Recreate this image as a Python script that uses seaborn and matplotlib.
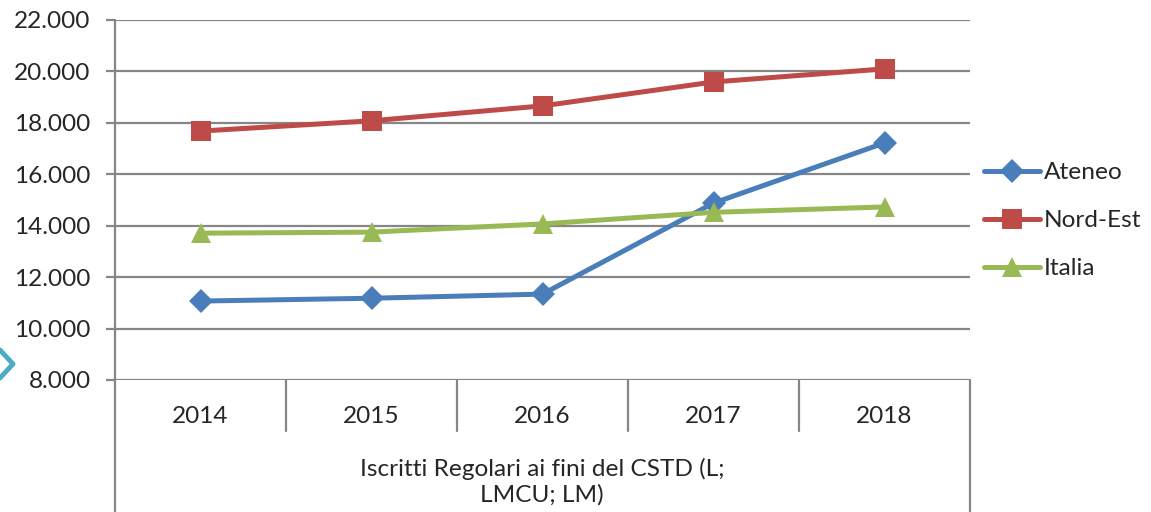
import pandas as pd
import matplotlib.pyplot as plt
import seaborn as sns
from matplotlib.ticker import FuncFormatter
from matplotlib.lines import Line2D

years = ["2014", "2015", "2016", "2017", "2018"]
ateneo = [11070, 11180, 11340, 14880, 17220]
nord_est = [17680, 18080, 18660, 19590, 20100]
italia = [13710, 13750, 14070, 14520, 14730]
series_names = ["Ateneo", "Nord-Est", "Italia"]
group_label = "Iscritti Regolari ai fini del CSTD (L;\nLMCU; LM)"

df = pd.DataFrame({
    "anno": years * 3,
    "valore": ateneo + nord_est + italia,
    "serie": [n for n in series_names for _ in years],
})
df["pos"] = df["anno"].map({y: i for i, y in enumerate(years)})

sns.set_style("white")
plt.rcParams["font.family"] = ["Lato", "DejaVu Sans"]
fs = 17.6
grey = "#868686"

fig = plt.figure(figsize=(11.51, 5.12), dpi=100)
ax = fig.add_axes([115 / 1151, 1 - 380 / 512, 855 / 1151, 360 / 512])

palette = {"Ateneo": "#4A7EBB", "Nord-Est": "#BE4B48", "Italia": "#98B954"}
markers = {"Ateneo": "D", "Nord-Est": "s", "Italia": "^"}
msize = {"Ateneo": 12, "Nord-Est": 14, "Italia": 15}
for name in series_names:
    sub = df[df["serie"] == name]
    sns.lineplot(data=sub, x="pos", y="valore", color=palette[name], marker=markers[name],
                 markersize=msize[name], markeredgewidth=0, linewidth=3.6, label=name,
                 ax=ax, zorder=3)

ax.set_xlim(-0.5, 4.5)
ax.set_ylim(8000, 22000)
ax.set_yticks(range(8000, 22001, 2000))
ax.yaxis.set_major_formatter(FuncFormatter(lambda v, p: f"{int(v):,}".replace(",", ".")))
ax.grid(axis="y", color=grey, linewidth=1.6)
ax.set_xticks(range(len(years)))
ax.set_xticklabels(years)
ax.tick_params(axis="x", length=0, pad=19, labelsize=fs)
ax.tick_params(axis="y", left=True, length=6.5, width=1.6, color=grey, pad=11, labelsize=fs)
ax.set_xlabel("")
ax.set_ylabel("")
for s in ax.spines.values():
    s.set_visible(False)

# category axis frame (left / right border and year separators)
below = -(512 - 380) / 360
ax.plot([0, 0], [1, below], transform=ax.transAxes, color=grey, lw=1.6, clip_on=False)
ax.plot([1, 1], [0, below], transform=ax.transAxes, color=grey, lw=1.6, clip_on=False)
for i in range(1, len(years)):
    x = i / len(years)
    ax.plot([x, x], [0, -(431 - 380) / 360], transform=ax.transAxes, color=grey, lw=1.6, clip_on=False)

fig.text(542 / 1151, 1 - 482 / 512, group_label, ha="center", va="center", fontsize=fs, linespacing=1.25)

ax.legend(loc="center left", bbox_to_anchor=(1.005, 0.442), frameon=False, fontsize=fs,
          handlelength=2.3, handletextpad=0.15, labelspacing=1.1, borderaxespad=0)

# small decorative chevron at the left edge
fig.add_artist(Line2D([0 / 1151, 13 / 1151, 0 / 1151], [1 - 350 / 512, 1 - 364 / 512, 1 - 378 / 512],
                      color="#4BACC6", lw=3.5, transform=fig.transFigure))

fig.savefig("out.png", dpi=100)
